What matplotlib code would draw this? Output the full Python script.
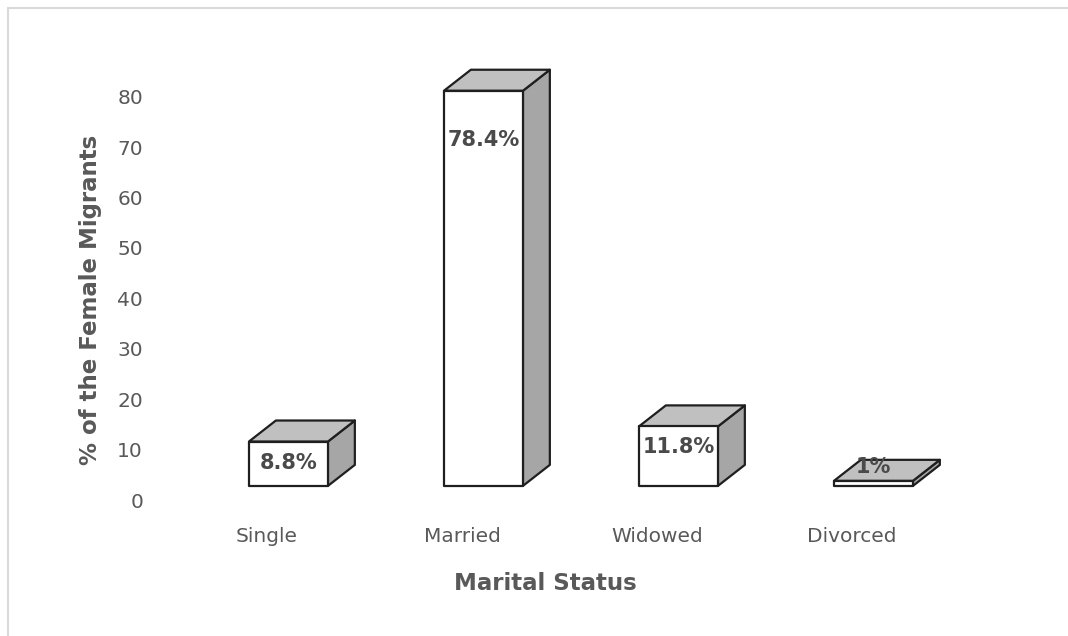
import numpy as np
import matplotlib
matplotlib.use('Agg')
import matplotlib.pyplot as plt
from matplotlib.patches import Polygon, Rectangle

# dados
categorias = ['Single', 'Married', 'Widowed', 'Divorced']
valores = [8.8, 78.4, 11.8, 1.0]
rotulos = ['8.8%', '78.4%', '11.8%', '1%']
yticks = [0, 10, 20, 30, 40, 50, 60, 70, 80]

# layout do efeito 3d (unidades dos eixos)
base = 2.8      # deslocamento da face frontal
larg = 0.405    # largura da face frontal
dx, dy = 0.138, 4.17   # profundidade
desloc_rotulo = [-4.3, -9.8, -4.1, 2.7]

cinza_txt = '#595959'
plt.rcParams['font.family'] = ['DejaVu Sans']

fig = plt.figure(figsize=(10.68, 6.36), dpi=100)
ax = fig.add_axes([150/1068, 136/636, 850/1068, 460/636])
ax.set_xlim(-0.710, 3.649)
ax.set_ylim(0, 460/5.04)

for i, v in enumerate(valores):
    l, r = i - larg/2, i + larg/2
    topo = base + v
    # face lateral
    ax.add_patch(Polygon([(r, base), (r+dx, base+dy), (r+dx, topo+dy), (r, topo)],
                         closed=True, facecolor='#a6a6a6', edgecolor='#1f1f1f', lw=1.6, joinstyle='round'))
    # face de cima
    ax.add_patch(Polygon([(l, topo), (r, topo), (r+dx, topo+dy), (l+dx, topo+dy)],
                         closed=True, facecolor='#c0c0c0', edgecolor='#1f1f1f', lw=1.6, joinstyle='round'))
    # face frontal
    ax.add_patch(Rectangle((l, base), larg, v, facecolor='white',
                           edgecolor='#1f1f1f', lw=1.6, joinstyle='round'))
    ax.text(i, topo + desloc_rotulo[i], rotulos[i], ha='center', va='center',
            fontsize=15, fontweight='bold', color='#4a4a4a')

ax.set_yticks(yticks)
ax.set_xticks(np.arange(len(categorias)) - 0.11)
ax.set_xticklabels(categorias)
ax.tick_params(axis='both', length=0, labelsize=14.5, labelcolor=cinza_txt)
ax.tick_params(axis='y', pad=5)
ax.tick_params(axis='x', pad=19.5)
for s in ax.spines.values():
    s.set_visible(False)

ax.set_ylabel('% of the Female Migrants', fontsize=16.5, fontweight='bold', color=cinza_txt)
ax.yaxis.set_label_coords(-0.056, 0.435)
ax.set_xlabel('Marital Status', fontsize=16.5, fontweight='bold', color=cinza_txt)
ax.xaxis.set_label_coords(0.465, -0.156)

# borda do gráfico (só topo e esquerda aparecem)
fig.patches.append(Rectangle((8/1068, -0.1), 1.2, (636-8)/636 + 0.1, transform=fig.transFigure,
                             facecolor='none', edgecolor='#d9d9d9', lw=1.5))

fig.savefig('out.png', dpi=100)
